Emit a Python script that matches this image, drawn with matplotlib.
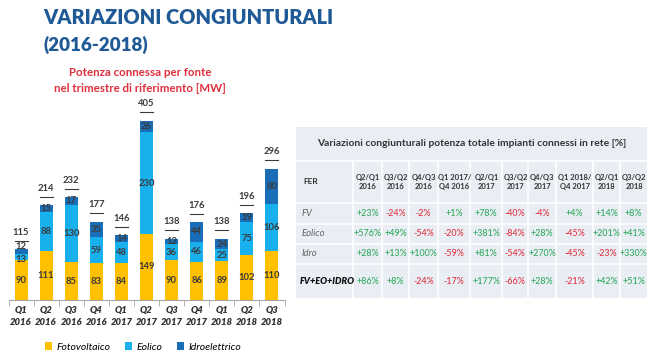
import matplotlib.pyplot as plt
from matplotlib.patches import Rectangle
import numpy as np

plt.rcParams['font.family'] = ['Lato', 'DejaVu Sans']

# data
quarters = ['Q1\n2016', 'Q2\n2016', 'Q3\n2016', 'Q4\n2016', 'Q1\n2017', 'Q2\n2017',
            'Q3\n2017', 'Q4\n2017', 'Q1\n2018', 'Q2\n2018', 'Q3\n2018']
fotovoltaico = [90, 111, 85, 83, 84, 149, 90, 86, 89, 102, 110]
eolico = [13, 88, 130, 59, 48, 230, 36, 46, 25, 75, 106]
idro = [12, 15, 17, 35, 14, 26, 12, 44, 24, 19, 80]
totals = [115, 214, 232, 177, 146, 405, 138, 176, 138, 196, 296]

col_headers = ['Q2/Q1\n2016', 'Q3/Q2\n2016', 'Q4/Q3\n2016', 'Q1 2017/\nQ4 2016',
               'Q2/Q1\n2017', 'Q3/Q2\n2017', 'Q4/Q3\n2017', 'Q1 2018/\nQ4 2017',
               'Q2/Q1\n2018', 'Q3/Q2\n2018']
row_labels = ['FV', 'Eolico', 'Idro', 'FV+EO+IDRO']
var_fv = [23, -24, -2, 1, 78, -40, -4, 4, 14, 8]
var_eolico = [576, 49, -54, -20, 381, -84, 28, -45, 201, 41]
var_idro = [28, 13, 100, -59, 81, -54, 270, -45, -23, 330]
var_tot = [86, 8, -24, -17, 177, -66, 28, -21, 42, 51]

c_fv = '#FFC000'
c_eo = '#19B0EE'
c_id = '#1A6DB7'
navy = '#1F5A96'
green = '#2EA85A'
red = '#E0303E'
dark = '#333333'

fig = plt.figure(figsize=(6.5, 3.58), dpi=100)
bg = fig.add_axes([0, 0, 1, 1])
bg.set_xlim(0, 650)
bg.set_ylim(358, 0)
bg.axis('off')

# titles
bg.text(43, 18, 'VARIAZIONI CONGIUNTURALI', color=navy, fontsize=14.4,
        fontweight='heavy', va='center', ha='left')
bg.text(43, 45, '(2016-2018)', color=navy, fontsize=13.5,
        fontweight='heavy', va='center', ha='left')
bg.text(140, 73, 'Potenza connessa per fonte', color=red, fontsize=8.3,
        fontweight='bold', va='center', ha='center')
bg.text(140, 89, 'nel trimestre di riferimento [MW]', color=red, fontsize=8.3,
        fontweight='bold', va='center', ha='center')

# table
xs = [296, 353, 382, 409, 438, 470, 502, 528, 556, 593, 620, 647]
ys = [127, 161, 203, 224, 244, 264, 298]
bg.add_patch(Rectangle((xs[0], ys[0]), xs[-1] - xs[0], ys[-1] - ys[0],
                       facecolor='#E9EDF4', edgecolor='none'))
for y in ys[1:-1]:
    bg.plot([xs[0], xs[-1]], [y, y], color='white', lw=1.2)
for x in xs[1:-1]:
    bg.plot([x, x], [ys[1], ys[-1]], color='white', lw=1.2)
bg.text((xs[0] + xs[-1]) / 2, (ys[0] + ys[1]) / 2,
        'Variazioni congiunturali potenza totale impianti connessi in rete [%]',
        color=dark, fontsize=7.4, fontweight='bold', ha='center', va='center')
bg.text(303, (ys[1] + ys[2]) / 2, 'FER', color=dark, fontsize=6,
        fontweight='bold', ha='left', va='center')
for i, h in enumerate(col_headers):
    bg.text((xs[i + 1] + xs[i + 2]) / 2 + 0.5, (ys[1] + ys[2]) / 2, h, color=dark,
            fontsize=5.5, fontweight='bold', ha='center', va='center',
            multialignment='center', linespacing=1.3)

rows = [var_fv, var_eolico, var_idro, var_tot]
for r, (lab, vals) in enumerate(zip(row_labels, rows)):
    yc = (ys[r + 2] + ys[r + 3]) / 2
    if r == 3:
        bg.text(300, yc, lab, color='#111111', fontsize=6.6, fontweight='heavy',
                style='italic', ha='left', va='center')
    else:
        bg.text(302, yc, lab, color='#666666', fontsize=6.8, style='italic',
                ha='left', va='center')
    for i, v in enumerate(vals):
        txt = ('+%d%%' % v) if v > 0 else ('%d%%' % v)
        bg.text((xs[i + 1] + xs[i + 2]) / 2, yc, txt,
                color=green if v > 0 else red, fontsize=6.4,
                fontweight='medium', ha='center', va='center')

# bar chart
ax = fig.add_axes([8.5 / 650, 58 / 358, 276 / 650, 200 / 358])
x = np.arange(len(quarters))
w = 0.52
fv = np.array(fotovoltaico)
eo = np.array(eolico)
idr = np.array(idro)
ax.bar(x, fv, w, color=c_fv, label='Fotovoltaico')
ax.bar(x, eo, w, bottom=fv, color=c_eo, label='Eolico')
ax.bar(x, idr, w, bottom=fv + eo, color=c_id, label='Idroelettrico')
ax.set_xlim(-0.5, len(quarters) - 0.5)
ax.set_ylim(0, 200 / 0.443)

lab_kw = dict(ha='center', va='center', fontsize=6.8, fontweight='bold', color='#3A3A3A')
for i in range(len(x)):
    ax.text(x[i], fv[i] / 2, str(fv[i]), **lab_kw)
    if eo[i] < 20 and idr[i] < 20:
        # two thin segments: spread the labels apart
        ax.annotate(str(eo[i]), (x[i], fv[i] + eo[i] / 2), xytext=(0, -1.5),
                    textcoords='offset points', **lab_kw)
        ax.annotate(str(idr[i]), (x[i], fv[i] + eo[i] + idr[i] / 2), xytext=(0, 3.5),
                    textcoords='offset points', **lab_kw)
    else:
        ax.text(x[i], fv[i] + eo[i] / 2, str(eo[i]), **lab_kw)
        ax.text(x[i], fv[i] + eo[i] + idr[i] / 2, str(idr[i]), **lab_kw)
    ax.annotate(str(totals[i]), (x[i], totals[i]), xytext=(0, 9),
                textcoords='offset points', ha='center', va='bottom',
                fontsize=6.8, fontweight='bold', color='#3A3A3A')
    ax.plot([x[i] - 0.26, x[i] + 0.26], [totals[i] + 19, totals[i] + 19],
            color='#3A3A3A', lw=0.8)

for s in ['top', 'right', 'left']:
    ax.spines[s].set_visible(False)
ax.spines['bottom'].set_color('#A6A6A6')
ax.set_yticks([])
ax.set_xticks(x)
ax.set_xticklabels(quarters, fontsize=6.8, fontweight='heavy', style='italic',
                   color=dark, linespacing=1.5)
ax.tick_params(axis='x', which='major', length=0, pad=4)
ax.set_xticks(np.arange(-0.5, len(quarters), 1), minor=True)
ax.tick_params(axis='x', which='minor', length=4, color='#A6A6A6')

bg.legend(*ax.get_legend_handles_labels(), loc='center', bbox_to_anchor=(143, 347),
          bbox_transform=bg.transData, ncol=3, frameon=False,
          prop={'style': 'italic', 'size': 7.5}, handlelength=0.7, handleheight=0.7,
          columnspacing=1.4, handletextpad=0.4)

fig.savefig('out.png', dpi=100)
